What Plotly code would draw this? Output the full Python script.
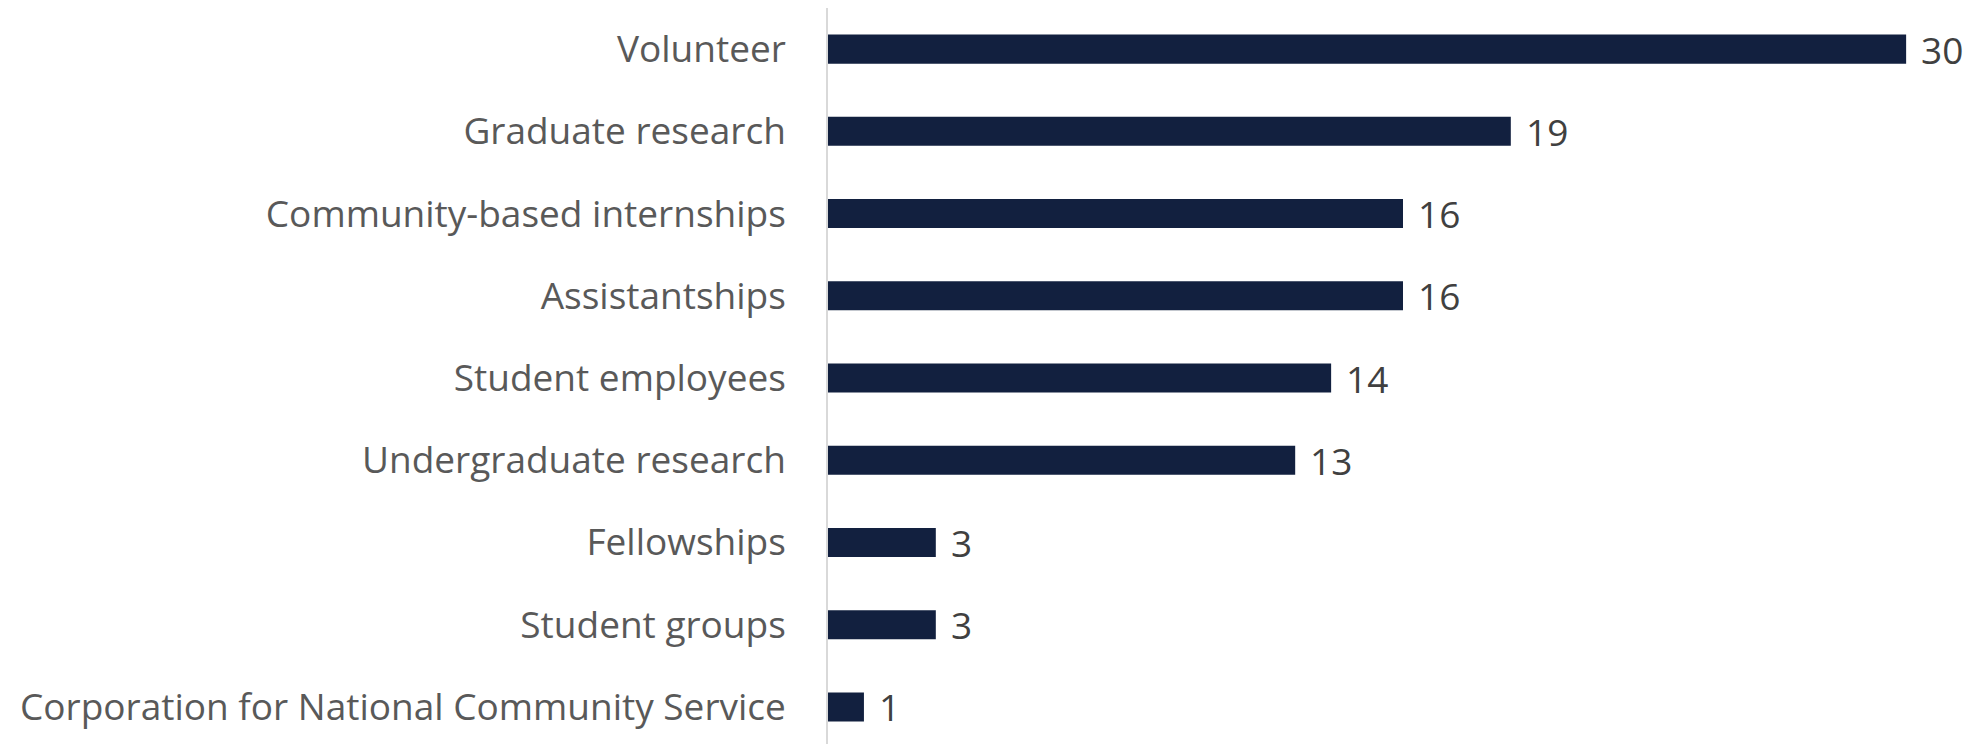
import plotly.graph_objects as go

# Categories (top to bottom) and counts
categories = [
    "Volunteer",
    "Graduate research",
    "Community-based internships",
    "Assistantships",
    "Student employees",
    "Undergraduate research",
    "Fellowships",
    "Student groups",
    "Corporation for National Community Service",
]
counts = [30, 19, 16, 16, 14, 13, 3, 3, 1]

BAR_COLOR = "#12203F"
LABEL_COLOR = "#595959"
VALUE_COLOR = "#404040"
FONT = "Open Sans"
FONT_SIZE = 37

fig = go.Figure()
fig.add_trace(go.Bar(
    x=counts,
    y=categories,
    orientation="h",
    marker=dict(color=BAR_COLOR, line=dict(width=0)),
    hoverinfo="skip",
))

# Value labels to the right of each bar
for cat, val in zip(categories, counts):
    fig.add_annotation(
        x=val, y=cat, text=str(val),
        xanchor="left", yanchor="middle",
        xshift=13, showarrow=False,
        font=dict(family=FONT, size=FONT_SIZE, color=VALUE_COLOR),
    )

fig.update_layout(
    width=1982, height=744,
    margin=dict(l=828, r=4, t=8, b=0),
    paper_bgcolor="white", plot_bgcolor="white",
    bargap=0.647,
    showlegend=False,
    font=dict(family=FONT, size=FONT_SIZE, color=LABEL_COLOR),
)
fig.update_xaxes(
    range=[0, 32], visible=False, showgrid=False, zeroline=False,
)
fig.update_yaxes(
    type="category",
    categoryorder="array", categoryarray=categories,
    range=[8.45, -0.5],
    showgrid=False, zeroline=False,
    showline=True, linecolor="#D9D9D9", linewidth=1.5,
    ticks="", ticklabelstandoff=33,
    tickfont=dict(family=FONT, size=FONT_SIZE, color=LABEL_COLOR),
)

fig.write_html("out.html")
